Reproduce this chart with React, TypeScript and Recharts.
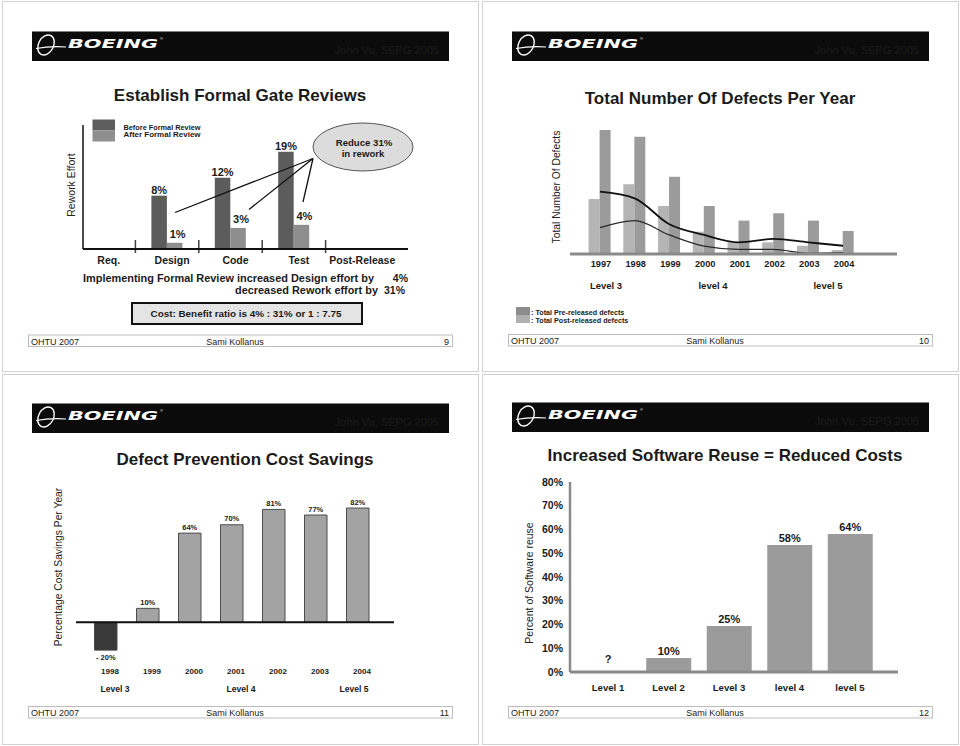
import React from "react";
import {
  Bar,
  BarChart,
  Cell,
  ComposedChart,
  LabelList,
  Line,
  ReferenceDot,
  ReferenceLine,
  XAxis,
  YAxis,
} from "recharts";

const FONT = "'Liberation Sans', Arial, Helvetica, sans-serif";
const INK = "#1b1b1b";

// slide 9: formal gate reviews (bar heights as drawn, labels as printed)
const phases = ["Req.", "Design", "Code", "Test", "Post-Release"];
const reworkBefore = [null, 8.6, 11.5, 15.7, null];
const reworkAfter = [null, 1.0, 3.4, 3.9, null];
const reworkBeforeLabels = ["", "8%", "12%", "19%", ""];
const reworkAfterLabels = ["", "1%", "3%", "4%", ""];

// slide 10: defects per year (relative scale, axis has no numbers)
const defectYears = ["1997", "1998", "1999", "2000", "2001", "2002", "2003", "2004"];
const postReleased = [38.7, 49.1, 33.8, 15.7, 8.2, 8.2, 5.8, 2.8];
const preReleased = [87.3, 82.6, 54.4, 33.8, 23.5, 28.7, 23.5, 16.2];
const trendUpper = [43.9, 39.2, 20.9, 13.4, 8.2, 10.6, 8.2, 5.8];
const trendLower = [18.5, 23.5, 13.4, 5.6, 3.3, 3.3, 0.5, 0.9];

// slide 11: cost savings
const savingYears = ["1998", "1999", "2000", "2001", "2002", "2003", "2004"];
const savings = [-20, 10, 64, 70, 81, 77, 82];
const savingLabels = ["- 20%", "10%", "64%", "70%", "81%", "77%", "82%"];

// slide 12: software reuse (bar heights as drawn, labels as printed)
const reuseLevels = ["Level 1", "Level 2", "Level 3", "level 4", "level 5"];
const reuseDrawn = [0, 5.9, 19.4, 53.5, 58.1];
const reuseLabels = ["?", "10%", "25%", "58%", "64%"];
const reuseTicks = [0, 10, 20, 30, 40, 50, 60, 70, 80];

const gateRows = phases.map((phase, i) => ({
  phase,
  before: reworkBefore[i],
  after: reworkAfter[i],
  beforeLabel: reworkBeforeLabels[i],
  afterLabel: reworkAfterLabels[i],
}));
const defectRows = defectYears.map((year, i) => ({
  year,
  post: postReleased[i],
  pre: preReleased[i],
  upper: trendUpper[i],
  lower: trendLower[i],
}));
const savingRows = savingYears.map((year, i) => ({
  year,
  saving: savings[i],
  label: savingLabels[i],
}));
const reuseRows = reuseLevels.map((level, i) => ({
  level,
  value: reuseDrawn[i],
  label: reuseLabels[i],
}));

function CatTick(props: any) {
  const { x, y, payload, dx = 0, dy = 0, size = 10, weight = "bold", mark } = props;
  return (
    <g>
      {mark && props.index > 0 && (
        <line x1={x - mark} x2={x - mark} y1={y - 9} y2={y + 4} stroke="#444" strokeWidth={1.5} />
      )}
      <text
        x={x + dx}
        y={y + dy}
        textAnchor="middle"
        fontSize={size}
        fontWeight={weight}
        fill={INK}
        fontFamily={FONT}
      >
        {payload.value}
      </text>
    </g>
  );
}

function SavingLabel(props: any) {
  const { x, y, width, height, value, index } = props;
  const top = Math.min(y, y + height);
  const bottom = Math.max(y, y + height);
  const neg = savings[index] < 0;
  return (
    <text
      x={x + width / 2}
      y={neg ? bottom + 9.7 : top - 3.4}
      textAnchor="middle"
      fontSize={7.5}
      fontWeight="bold"
      fill={INK}
    >
      {value}
    </text>
  );
}

function BoeingMark() {
  return (
    <g>
      <ellipse
        cx={46}
        cy={45}
        rx={7.5}
        ry={10.5}
        transform="rotate(28 46 45)"
        fill="none"
        stroke="#fff"
        strokeWidth={1.4}
      />
      <path d="M36 48.5 Q50 46 66 47" fill="none" stroke="#fff" strokeWidth={1.2} />
      <text
        x={68}
        y={48}
        fontSize={12.5}
        fontStyle="italic"
        fontWeight="900"
        fill="#fff"
        fontFamily="'DejaVu Sans', sans-serif"
        textLength={90}
        lengthAdjust="spacingAndGlyphs"
      >
        BOEING
      </text>
      <text x={160} y={40} fontSize={4} fill="#fff">
        ®
      </text>
    </g>
  );
}

function Slide(props: any) {
  const { left, top, title, titleX, titleY, page, headerY, footerY, children } = props;
  return (
    <div style={{ position: "absolute", left, top, width: 480, height: 373 }}>
      <svg width={480} height={373} style={{ position: "absolute", left: 0, top: 0 }}>
        <rect x={2.5} y={1.5} width={476} height={370} fill="#fff" stroke="#d2d2d2" />
        <g transform={`translate(0 ${headerY - 31.5})`}>
          <rect x={32} y={31.5} width={417} height={29.5} fill="#0b0b0b" />
          <BoeingMark />
          <text x={439} y={54} textAnchor="end" fontSize={11} fill="#1c1c1c">
            John Vu, SEPG 2005
          </text>
        </g>
        <text x={titleX} y={titleY} textAnchor="middle" fontSize={17} fontWeight="bold" fill={INK}>
          {title}
        </text>
        <rect x={28.5} y={footerY} width={424} height={11.5} fill="none" stroke="#bdbdbd" />
        <text x={31} y={footerY + 9.8} fontSize={9} fill="#222">
          OHTU 2007
        </text>
        <text x={235} y={footerY + 9.8} fontSize={9} fill="#222" textAnchor="middle">
          Sami Kollanus
        </text>
        <text x={449} y={footerY + 9.8} fontSize={9} fill="#222" textAnchor="end">
          {page}
        </text>
      </svg>
      {children}
    </div>
  );
}

const layer: React.CSSProperties = { position: "absolute", left: 0, top: 0 };

const PHASE_BAND = (480 - 72 - 91) / phases.length;

function GateSlide() {
  return (
    <Slide left={0} top={0} title="Establish Formal Gate Reviews" titleX={240} titleY={100.5} page="9" headerY={31.5} footerY={335}>
      <div style={layer}>
        <BarChart
          width={480}
          height={373}
          data={gateRows}
          margin={{ top: 125, right: 91, bottom: 104, left: 72 }}
          barGap={0}
        >
          <XAxis
            dataKey="phase"
            axisLine={false}
            tickLine={false}
            tickSize={0}
            tickMargin={0}
            height={20}
            interval={0}
            tick={(p: any) => <CatTick {...p} dx={5} dy={15} size={10.5} mark={PHASE_BAND / 2} />}
          />
          <YAxis hide width={0} domain={[0, 20]} allowDataOverflow />
          <Bar dataKey="before" fill="#5c5c5c" barSize={15.5} isAnimationActive={false}>
            <LabelList dataKey="beforeLabel" position="top" offset={2} fontSize={11} fontWeight="bold" fill={INK} />
          </Bar>
          <Bar dataKey="after" fill="#8e8e8e" barSize={15.5} isAnimationActive={false}>
            <LabelList dataKey="afterLabel" position="top" offset={5} dx={3} fontSize={11} fontWeight="bold" fill={INK} />
          </Bar>
        </BarChart>
      </div>
      <svg width={480} height={373} style={{ ...layer, pointerEvents: "none" }}>
        <line x1={83} x2={83} y1={125} y2={249} stroke="#111" strokeWidth={1.5} />
        <line x1={83} x2={408} y1={249} y2={249} stroke="#111" strokeWidth={2} />
        <text transform="rotate(-90 71 185)" x={71} y={189} textAnchor="middle" fontSize={10.5} fill="#222">
          Rework Effort
        </text>
        <rect x={92.5} y={119.5} width={22.5} height={11} fill="#5e5e5e" />
        <rect x={92.5} y={130.5} width={22.5} height={11} fill="#8f8f8f" />
        <g fontSize={7.2} fontWeight="bold" fill={INK} style={{ whiteSpace: "pre" }}>
          <text x={123.5} y={129.8} textLength={77} lengthAdjust="spacingAndGlyphs">
            Before Formal Review
          </text>
          <text x={123.5} y={137.3} textLength={77} lengthAdjust="spacingAndGlyphs">
            {"After     Formal Review"}
          </text>
        </g>
        <ellipse cx={363} cy={147} rx={50} ry={24} fill="#dcdcdc" stroke="#555" strokeWidth={1} />
        <g fontSize={9.6} fontWeight="bold" fill={INK} textAnchor="middle">
          <text x={364} y={145.5}>Reduce 31%</text>
          <text x={363} y={156.5}>in rework</text>
        </g>
        <g stroke="#111" strokeWidth={1.3}>
          <line x1={313} y1={158.5} x2={175} y2={212.5} />
          <line x1={313} y1={158.5} x2={249} y2={209.5} />
          <line x1={313} y1={158.5} x2={303} y2={202} />
        </g>
        <g fontSize={10.5} fontWeight="bold" fill={INK}>
          <text x={83} y={282} textLength={291} lengthAdjust="spacingAndGlyphs">
            Implementing Formal Review increased Design effort by
          </text>
          <text x={408} y={282} textAnchor="end">4%</text>
          <text x={235} y={294} textLength={143} lengthAdjust="spacingAndGlyphs">
            decreased Rework effort by
          </text>
          <text x={405} y={294} textAnchor="end">31%</text>
        </g>
        <rect x={132} y={303} width={230} height={21} fill="#e4e4e4" stroke="#111" strokeWidth={2} />
        <text x={246} y={316.5} textAnchor="middle" fontSize={9.5} fontWeight="bold" fill={INK} textLength={191} lengthAdjust="spacingAndGlyphs">
          Cost: Benefit ratio is 4% : 31% or  1 : 7.75
        </text>
      </svg>
    </Slide>
  );
}

function DefectSlide() {
  return (
    <Slide left={480} top={0} title="Total Number Of Defects Per Year" titleX={240} titleY={104} page="10" headerY={31.5} footerY={334.5}>
      <div style={layer}>
        <ComposedChart
          width={480}
          height={373}
          data={defectRows}
          margin={{ top: 112, right: 63, bottom: 99, left: 90 }}
          barGap={0}
        >
          <XAxis
            dataKey="year"
            axisLine={{ stroke: "#8a8a8a", strokeWidth: 3 }}
            tickLine={false}
            tickSize={0}
            tickMargin={0}
            height={20}
            interval={0}
            padding={{ left: 12.6, right: 36.6 }}
            tick={(p: any) => <CatTick {...p} dx={1} dy={13.2} size={9.2} />}
          />
          <YAxis
            width={0}
            domain={[0, 100]}
            allowDataOverflow
            tick={false}
            tickLine={false}
            axisLine={{ stroke: "#8a8a8a", strokeWidth: 2.5 }}
          />
          <Bar dataKey="post" fill="#b5b5b5" barSize={11} isAnimationActive={false} />
          <Bar dataKey="pre" fill="#9b9b9b" barSize={11} isAnimationActive={false} />
          <Line dataKey="upper" type="monotone" stroke="#111" strokeWidth={1.8} dot={false} isAnimationActive={false} />
          <Line dataKey="lower" type="monotone" stroke="#2a2a2a" strokeWidth={1.3} dot={false} isAnimationActive={false} />
        </ComposedChart>
      </div>
      <svg width={480} height={373} style={{ ...layer, pointerEvents: "none" }}>
        <text transform="rotate(-90 76 187)" x={76} y={190.5} textAnchor="middle" fontSize={10.3} fill="#222">
          Total Number Of Defects
        </text>
        <g fontSize={9.5} fontWeight="bold" fill={INK} textAnchor="middle">
          <text x={126} y={288.5}>Level 3</text>
          <text x={233} y={288.5}>level 4</text>
          <text x={348} y={288.5}>level 5</text>
        </g>
        <rect x={36} y={307} width={14} height={8} fill="#8c8c8c" />
        <rect x={36} y={315} width={14} height={8} fill="#b0b0b0" />
        <g fontSize={7.2} fontWeight="bold" fill={INK}>
          <text x={51} y={314.5}>: Total Pre-released defects</text>
          <text x={51} y={322.5}>: Total Post-released defects</text>
        </g>
      </svg>
    </Slide>
  );
}

function SavingsSlide() {
  return (
    <Slide left={0} top={373} title="Defect Prevention Cost Savings" titleX={245} titleY={92.3} page="11" headerY={30.5} footerY={333.5}>
      <div style={layer}>
        <BarChart
          width={480}
          height={373}
          data={savingRows}
          margin={{ top: 103, right: 86, bottom: 58, left: 76 }}
        >
          <XAxis
            dataKey="year"
            axisLine={false}
            tickLine={false}
            tickSize={0}
            tickMargin={0}
            height={10}
            interval={0}
            padding={{ left: 8.5, right: 15.5 }}
            tick={(p: any) => <CatTick {...p} dx={4.5} dy={-4} size={8} />}
          />
          <YAxis
            width={0}
            domain={[-40, 105]}
            allowDataOverflow
            tick={false}
            tickLine={false}
            axisLine={{ stroke: "#111", strokeWidth: 3 }}
          />
          <ReferenceLine y={0} stroke="#111" strokeWidth={2} />
          <Bar dataKey="saving" barSize={22.5} fill="#a3a3a3" stroke="#4d4d4d" strokeWidth={1} isAnimationActive={false}>
            {savings.map((v, i) => (
              <Cell key={i} fill={v < 0 ? "#393939" : "#a3a3a3"} />
            ))}
            <LabelList dataKey="label" content={SavingLabel} />
          </Bar>
        </BarChart>
      </div>
      <svg width={480} height={373} style={{ ...layer, pointerEvents: "none" }}>
        <text transform="rotate(-90 58 194)" x={58} y={197.5} textAnchor="middle" fontSize={10.3} fill="#222">
          Percentage Cost Savings Per Year
        </text>
        <g fontSize={8.6} fontWeight="bold" fill={INK} textAnchor="middle">
          <text x={115} y={319}>Level 3</text>
          <text x={241} y={319}>Level 4</text>
          <text x={354} y={319}>Level 5</text>
        </g>
      </svg>
    </Slide>
  );
}

function ReuseSlide() {
  return (
    <Slide left={480} top={373} title="Increased Software Reuse = Reduced Costs" titleX={245} titleY={87.7} page="12" headerY={29.5} footerY={333.5}>
      <div style={layer}>
        <BarChart
          width={480}
          height={373}
          data={reuseRows}
          margin={{ top: 109, right: 62, bottom: 54, left: 50 }}
        >
          <XAxis
            dataKey="level"
            axisLine={{ stroke: "#8a8a8a", strokeWidth: 3 }}
            tickLine={false}
            tickSize={0}
            tickMargin={0}
            height={20}
            interval={0}
            padding={{ left: 7.75, right: 17.75 }}
            tick={(p: any) => <CatTick {...p} dy={18.5} size={9.6} />}
          />
          <YAxis
            width={40}
            domain={[0, 80]}
            allowDataOverflow
            ticks={reuseTicks}
            interval={0}
            tickFormatter={(v: number) => `${v}%`}
            tickLine={false}
            tickSize={0}
            tickMargin={7}
            axisLine={{ stroke: "#8a8a8a", strokeWidth: 2.5 }}
            tick={{ fontSize: 10.5, fontWeight: "bold", fill: INK, fontFamily: FONT }}
          />
          <Bar dataKey="value" barSize={45} fill="#9b9b9b" isAnimationActive={false}>
            <LabelList dataKey="label" position="top" offset={3} fontSize={11} fontWeight="bold" fill={INK} />
          </Bar>
          <ReferenceDot
            x={reuseLevels[0]}
            y={reuseDrawn[0]}
            r={1}
            fill="none"
            stroke="none"
            label={{ value: reuseLabels[0], position: "top", offset: 8, fontSize: 11, fontWeight: "bold", fill: INK }}
          />
        </BarChart>
      </div>
      <svg width={480} height={373} style={{ ...layer, pointerEvents: "none" }}>
        <text transform="rotate(-90 49 210)" x={49} y={213.5} textAnchor="middle" fontSize={10.5} fill="#222">
          Percent of Software reuse
        </text>
      </svg>
    </Slide>
  );
}

export default function App() {
  return (
    <div
      style={{
        position: "absolute",
        left: 0,
        top: 0,
        width: 960,
        height: 746,
        background: "#fff",
        fontFamily: FONT,
        overflow: "hidden",
      }}
    >
      <GateSlide />
      <DefectSlide />
      <SavingsSlide />
      <ReuseSlide />
    </div>
  );
}
